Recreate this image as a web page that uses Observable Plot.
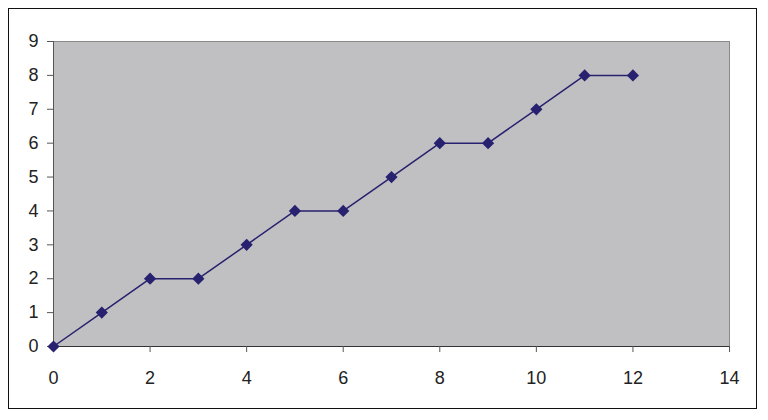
<!DOCTYPE html>
<html>
<head>
<meta charset="utf-8">
<script src="https://cdn.jsdelivr.net/npm/d3@7"></script>
<script src="https://cdn.jsdelivr.net/npm/@observablehq/plot@0.6"></script>
<style>
  body { margin: 0; background: #fff; }
  #wrap { position: relative; width: 768px; height: 420px; }
  #border { position: absolute; left: 8px; top: 8px; width: 749px; height: 401px; border: 1.5px solid #111; box-sizing: border-box; pointer-events: none; }
  #chart { position: absolute; left: 0; top: 0; }
  #chart svg text { font-size: 18px !important; font-family: "Liberation Sans", Arial, sans-serif; }
</style>
</head>
<body>
<div id="wrap"><div id="chart"></div><div id="border"></div></div>
<script>
const xValues = [0, 1, 2, 3, 4, 5, 6, 7, 8, 9, 10, 11, 12];
const yValues = [0, 1, 2, 2, 3, 4, 4, 5, 6, 6, 7, 8, 8];
const xTicks = [0, 2, 4, 6, 8, 10, 12, 14];
const yTicks = [0, 1, 2, 3, 4, 5, 6, 7, 8, 9];

const data = xValues.map((x, i) => ({x, y: yValues[i]}));
const lineColor = "#27216f";

const chart = Plot.plot({
  width: 768,
  height: 420,
  marginLeft: 53,
  marginRight: 39,
  marginTop: 41,
  marginBottom: 74,
  style: {fontFamily: "Liberation Sans, Arial, sans-serif", fontSize: "18px", color: "#222", background: "transparent", overflow: "visible"},
  x: {domain: [0, 14], label: null},
  y: {domain: [0, 9], label: null},
  marks: [
    Plot.frame({fill: "#c0c0c2", stroke: "#8a8a8a"}),
    Plot.ruleX([0], {stroke: "#555"}),
    Plot.ruleY([0], {stroke: "#333"}),
    Plot.axisX({ticks: xTicks, tickSize: 6, tickPadding: 19, stroke: "#555", fontSize: 18, fill: "#222", label: null}),
    Plot.axisY({ticks: yTicks, tickSize: 6, tickPadding: 9, stroke: "#555", fontSize: 18, fill: "#222", label: null}),
    Plot.line(data, {x: "x", y: "y", stroke: lineColor, strokeWidth: 1.5}),
    Plot.dot(data, {x: "x", y: "y", symbol: "diamond2", r: 5.5, fill: lineColor, stroke: "none"})
  ]
});
document.getElementById("chart").appendChild(chart);
</script>
</body>
</html>
